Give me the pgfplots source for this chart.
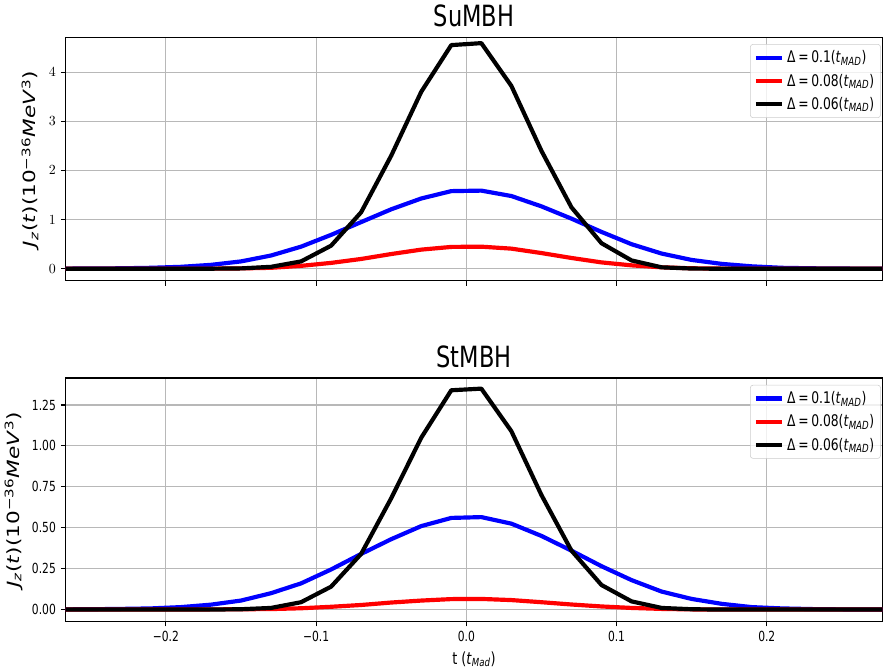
\documentclass[border=0pt]{standalone}
\usepackage{fontspec}
\setmainfont{DejaVu Sans}[FakeStretch=0.77]
\newfontfamily\ylfont{DejaVu Sans}
\usepackage{graphicx}
\usepackage{pgfplots}
\pgfplotsset{compat=1.18}

% sampled curves, t in t_MAD
\pgfplotstableread{
t     a      b      c
-0.29 0.000  0.000  0.000
-0.27 0.003  0.000  0.000
-0.25 0.006  0.000  0.000
-0.23 0.010  0.000  0.000
-0.21 0.020  0.000  0.000
-0.19 0.040  0.001  0.000
-0.17 0.080  0.003  0.002
-0.15 0.150  0.008  0.008
-0.13 0.270  0.020  0.040
-0.11 0.450  0.060  0.150
-0.09 0.690  0.120  0.470
-0.07 0.950  0.200  1.150
-0.05 1.210  0.300  2.300
-0.03 1.430  0.390  3.600
-0.01 1.580  0.445  4.550
 0.01 1.590  0.450  4.590
 0.03 1.480  0.410  3.720
 0.05 1.270  0.320  2.400
 0.07 1.020  0.220  1.250
 0.09 0.750  0.130  0.520
 0.11 0.500  0.070  0.170
 0.13 0.310  0.030  0.030
 0.15 0.180  0.010  0.005
 0.17 0.100  0.004  0.001
 0.19 0.050  0.001  0.000
 0.21 0.020  0.000  0.000
 0.23 0.010  0.000  0.000
 0.25 0.005  0.000  0.000
 0.27 0.002  0.000  0.000
 0.29 0.000  0.000  0.000
}\sumbh

\pgfplotstableread{
t     a      b      c
-0.29 0.000  0.000  0.000
-0.27 0.001  0.000  0.000
-0.25 0.002  0.000  0.000
-0.23 0.004  0.000  0.000
-0.21 0.007  0.000  0.000
-0.19 0.015  0.000  0.000
-0.17 0.030  0.001  0.000
-0.15 0.055  0.002  0.002
-0.13 0.100  0.003  0.010
-0.11 0.160  0.008  0.045
-0.09 0.245  0.017  0.140
-0.07 0.340  0.028  0.340
-0.05 0.430  0.043  0.680
-0.03 0.510  0.055  1.050
-0.01 0.560  0.064  1.340
 0.01 0.565  0.065  1.350
 0.03 0.525  0.058  1.090
 0.05 0.450  0.045  0.700
 0.07 0.360  0.031  0.360
 0.09 0.265  0.019  0.150
 0.11 0.180  0.010  0.050
 0.13 0.110  0.004  0.010
 0.15 0.065  0.001  0.002
 0.17 0.035  0.000  0.000
 0.19 0.015  0.000  0.000
 0.21 0.007  0.000  0.000
 0.23 0.003  0.000  0.000
 0.25 0.001  0.000  0.000
 0.27 0.000  0.000  0.000
 0.29 0.000  0.000  0.000
}\stmbh

\pgfplotsset{
  panel/.style={
    scale only axis, width=586.8pt, height=175pt,
    xmin=-0.2667, xmax=0.277,
    axis line style={line width=0.8pt},
    grid=major, major grid style={color=black!28, line width=0.8pt},
    tick align=outside, major tick length=3.5pt,
    tick style={black, line width=0.8pt},
    xtick pos=bottom, ytick pos=left,
    xtick={-0.2,-0.1,0,0.1,0.2},
    tick label style={font=\fontsize{10}{12}\selectfont},
    title style={font=\fontsize{21}{24}\selectfont, yshift=-2pt},
    ylabel style={font=\fontsize{15.5}{18}\selectfont\ylfont},
    legend cell align=left,
    legend style={at={(0.998,0.972)}, anchor=north east, draw=black!20,
      rounded corners=2pt, fill=white, fill opacity=0.8, text opacity=1,
      font=\fontsize{11.5}{13}\selectfont, row sep=2.5pt, inner sep=2.5pt},
    legend image code/.code={\draw[##1, line width=3pt] (0pt,0pt) -- (19pt,0pt);},
    every axis plot/.append style={line width=3pt, line join=round},
    clip=true,
  },
}

\newcommand{\Jlab}{\scalebox{1}[0.78]{\textit{J}\textsubscript{\textit{z}}(\textit{t})(10\textsuperscript{\char"2212 36}\textit{MeV}\textsuperscript{3})}}
\newcommand{\tmad}{(\textit{t}\textsubscript{\textit{MAD}})}

\begin{document}
\begin{tikzpicture}
\begin{axis}[panel, name=top, title={SuMBH},
  ymin=-0.245, ymax=4.71, ytick={0,1,2,3,4},
  xticklabels={}, ylabel={\Jlab}]
\addplot[blue] table[x=t, y=a] {\sumbh};
\addplot[red] table[x=t, y=b] {\sumbh};
\addplot[black] table[x=t, y=c] {\sumbh};
\legend{Δ\,=\,0.1\tmad, Δ\,=\,0.08\tmad, Δ\,=\,0.06\tmad}
\end{axis}
\begin{axis}[panel, at={(top.south west)}, anchor=north west, yshift=-69.8pt,
  title={StMBH},
  ymin=-0.0735, ymax=1.415, ytick={0,0.25,0.5,0.75,1,1.25},
  yticklabels={0.00,0.25,0.50,0.75,1.00,1.25},
  xticklabels={\char"2212 0.2,\char"2212 0.1,0.0,0.1,0.2},
  xlabel={t (\textit{t}\textsubscript{\textit{Mad}})},
  xlabel style={font=\fontsize{12}{14}\selectfont},
  ylabel={\Jlab}]
\addplot[blue] table[x=t, y=a] {\stmbh};
\addplot[red] table[x=t, y=b] {\stmbh};
\addplot[black] table[x=t, y=c] {\stmbh};
\legend{Δ\,=\,0.1\tmad, Δ\,=\,0.08\tmad, Δ\,=\,0.06\tmad}
\end{axis}
\end{tikzpicture}
\end{document}
